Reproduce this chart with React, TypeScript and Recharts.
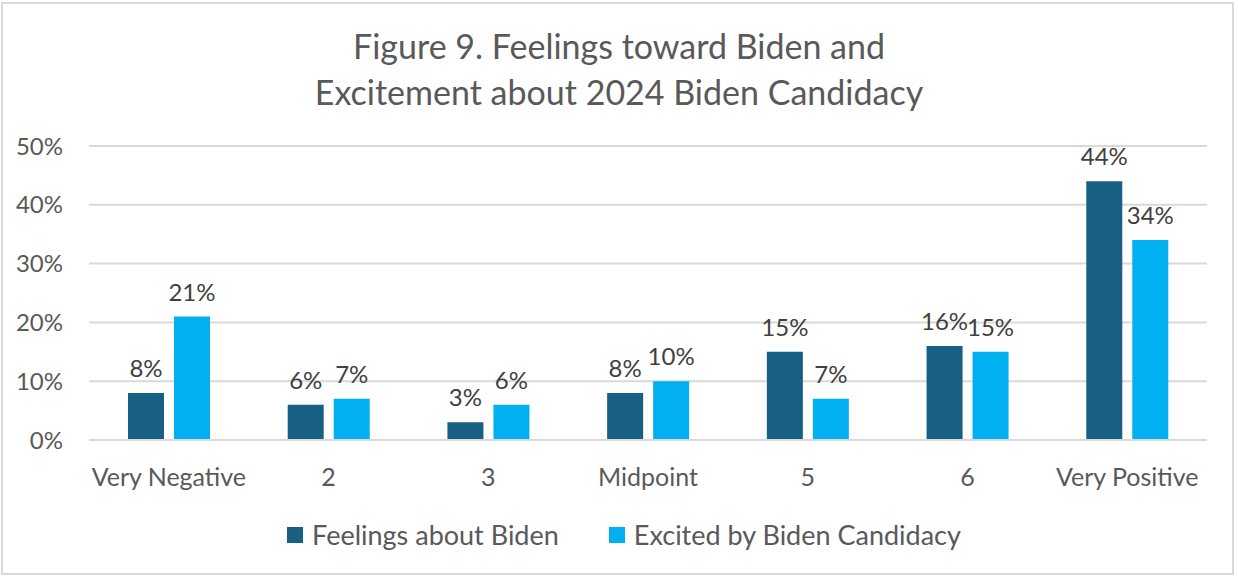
import * as React from 'react';
import { BarChart, Bar, XAxis, YAxis, CartesianGrid, LabelList } from 'recharts';

const categories = ['Very Negative', '2', '3', 'Midpoint', '5', '6', 'Very Positive'];
const feelingsAboutBiden = [8, 6, 3, 8, 15, 16, 44];
const excitedByCandidacy = [21, 7, 6, 10, 7, 15, 34];
const yTicks = [0, 10, 20, 30, 40, 50];

const SERIES = [
  { key: 'feelings', name: 'Feelings about Biden', color: '#175f83' },
  { key: 'excited', name: 'Excited by Biden Candidacy', color: '#00b0f0' },
];

const FONT = 'Lato, "Open Sans", sans-serif';
const TEXT = '#595959';
const GRID = '#d9d9d9';

const data = categories.map((name, i) => ({
  name,
  feelings: feelingsAboutBiden[i],
  excited: excitedByCandidacy[i],
}));

// legend drawn outside the chart so it doesn't eat into the plot height
function ChartLegend() {
  return (
    <div
      style={{
        position: 'absolute',
        left: 5,
        top: 517,
        width: 1238,
        display: 'flex',
        justifyContent: 'center',
        gap: 50,
        fontFamily: FONT,
        fontSize: 27,
        lineHeight: '36px',
        color: TEXT,
      }}
    >
      {SERIES.map((s) => (
        <div key={s.key} style={{ display: 'flex', alignItems: 'center' }}>
          <span style={{ display: 'inline-block', width: 16, height: 16, background: s.color, marginRight: 9 }} />
          <span>{s.name}</span>
        </div>
      ))}
    </div>
  );
}

export default function App() {
  return (
    <div style={{ position: 'absolute', left: 0, top: 0, width: 1238, height: 577, background: '#fff', fontFamily: FONT }}>
      <div
        style={{
          position: 'absolute',
          left: 1,
          top: 2,
          width: 1233,
          height: 573,
          border: `2px solid ${GRID}`,
          boxSizing: 'border-box',
        }}
      />
      <div
        style={{
          position: 'absolute',
          left: 0,
          top: 23,
          width: 1238,
          textAlign: 'center',
          fontSize: 34,
          lineHeight: '46px',
          color: TEXT,
        }}
      >
        Figure 9. Feelings toward Biden and
        <br />
        Excitement about 2024 Biden Candidacy
      </div>
      <div style={{ position: 'absolute', left: 0, top: 0 }}>
        <BarChart
          width={1238}
          height={577}
          data={data}
          margin={{ top: 146, right: 31, bottom: 0, left: 0 }}
          barGap={10}
          barSize={36}
        >
          <CartesianGrid vertical={false} stroke={GRID} strokeWidth={2} />
          <XAxis
            dataKey="name"
            axisLine={{ stroke: GRID, strokeWidth: 2 }}
            tickLine={false}
            tickSize={0}
            tickMargin={28}
            height={137}
            interval={0}
            tick={{ fill: TEXT, fontSize: 25, fontFamily: FONT }}
          />
          <YAxis
            domain={[0, 50]}
            ticks={yTicks}
            width={89}
            axisLine={false}
            tickLine={false}
            tickSize={0}
            tickMargin={26}
            tickFormatter={(v) => `${v}%`}
            tick={{ fill: TEXT, fontSize: 24, fontFamily: FONT }}
          />
          {SERIES.map((s) => (
            <Bar key={s.key} dataKey={s.key} name={s.name} fill={s.color} isAnimationActive={false}>
              <LabelList
                dataKey={s.key}
                position="top"
                offset={16}
                formatter={(v) => `${v}%`}
                style={{ fill: '#404040', fontSize: 24, fontFamily: FONT }}
              />
            </Bar>
          ))}
        </BarChart>
      </div>
      <ChartLegend />
    </div>
  );
}
